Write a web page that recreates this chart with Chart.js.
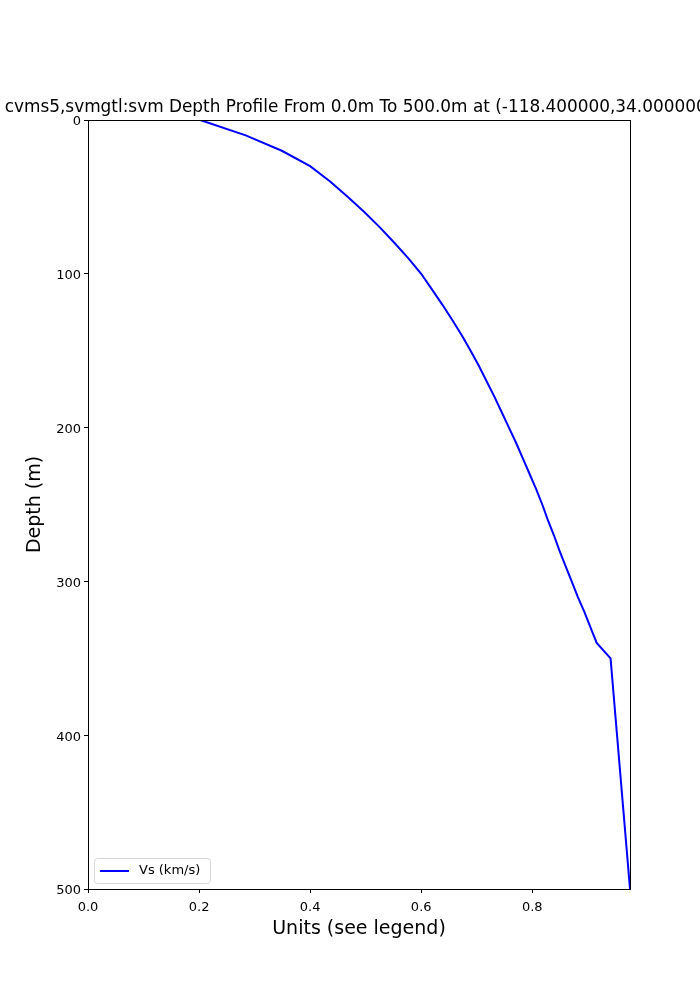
<!DOCTYPE html>
<html lang="en">
	<head>
		<meta charset="UTF-8" />
		<title>Depth Profile</title>
		<style>
			body { margin: 0; background: #fff; }
			#chartContainer { width: 700px; height: 1000px; }
		</style>
	</head>
	<body>
		<div id="chartContainer">
			<canvas id="myChart" width="700" height="1000"></canvas>
		</div>
	</body>
	<script src="https://cdn.jsdelivr.net/npm/chart.js"></script>
	<script>
		// depth samples (m) and Vs
		const depths = [0, 10, 20, 30, 40, 50, 60, 70, 80, 90, 100, 110, 120, 130, 140, 150, 160, 170, 180, 190,
			200, 210, 220, 230, 240, 250, 260, 270, 280, 290, 300, 310, 320, 330, 340, 350, 500];
		const vs = [0.202, 0.284, 0.349, 0.400, 0.436, 0.468, 0.498, 0.526, 0.552, 0.577, 0.600, 0.619, 0.638, 0.656,
			0.673, 0.689, 0.704, 0.718, 0.732, 0.745, 0.758, 0.771, 0.783, 0.795, 0.807, 0.818, 0.828, 0.839, 0.849,
			0.860, 0.871, 0.882, 0.894, 0.905, 0.916, 0.941, 0.976];
		const seriesLabel = 'Vs (km/s)';
		const titleText = 'cvms5,svmgtl:svm Depth Profile From 0.0m To 500.0m at (-118.400000,34.000000)';
		const xTitle = 'Units (see legend)';
		const yTitle = 'Depth (m)';

		const FONT = "'DejaVu Sans', sans-serif";

		// frame, title and legend drawn like matplotlib does
		const extras = {
			id: 'extras',
			afterDatasetsDraw(chart) {
				const { ctx, chartArea: a } = chart;
				ctx.save();
				ctx.strokeStyle = '#000';
				ctx.lineWidth = 1;
				ctx.strokeRect(a.left + 0.5, a.top + 0.5, a.right - a.left, a.bottom - a.top);

				ctx.fillStyle = '#000';
				ctx.font = '16.9px ' + FONT;
				ctx.textAlign = 'center';
				ctx.textBaseline = 'alphabetic';
				ctx.fillText(titleText, (a.left + a.right) / 2, 112);

				// legend box
				const bx = a.left + 6, by = a.bottom - 31, bw = 116, bh = 25;
				ctx.fillStyle = 'rgba(255,255,255,0.8)';
				ctx.strokeStyle = '#d6d6d6';
				ctx.beginPath();
				ctx.roundRect(bx + 0.5, by + 0.5, bw, bh, 3);
				ctx.fill();
				ctx.stroke();
				ctx.strokeStyle = '#0000ff';
				ctx.lineWidth = 2;
				ctx.beginPath();
				ctx.moveTo(bx + 6, by + 13);
				ctx.lineTo(bx + 35, by + 13);
				ctx.stroke();
				ctx.fillStyle = '#000';
				ctx.font = '13px ' + FONT;
				ctx.textAlign = 'left';
				ctx.textBaseline = 'middle';
				ctx.fillText(seriesLabel, bx + 45, by + 13);
				ctx.restore();
			},
		};

		const data = {
			datasets: [
				{
					label: seriesLabel,
					data: vs.map((v, i) => ({ x: v, y: depths[i] })),
					borderColor: '#0000ff',
					backgroundColor: '#0000ff',
					borderWidth: 2,
					pointRadius: 0,
					showLine: true,
					tension: 0,
				},
			],
		};

		const config = {
			type: 'scatter',
			data,
			plugins: [extras],
			options: {
				responsive: false,
				animation: false,
				devicePixelRatio: 1,
				layout: { padding: { left: 0, top: 120, right: 70, bottom: 0 } },
				plugins: { legend: { display: false }, title: { display: false }, tooltip: { enabled: false } },
				scales: {
					x: {
						type: 'linear',
						min: 0,
						max: 0.976,
						afterFit: (s) => { s.height = 111; },
						grid: { drawOnChartArea: false, drawTicks: true, tickLength: 4, color: '#000' },
						border: { display: true, color: '#000' },
						ticks: {
							stepSize: 0.2,
							includeBounds: false,
							maxRotation: 0,
							padding: 7,
							color: '#000',
							font: { family: FONT, size: 13 },
							callback: (v) => v.toFixed(1),
						},
						title: {
							display: true,
							text: xTitle,
							color: '#000',
							font: { family: FONT, size: 19 },
							padding: { top: 0, bottom: 60 },
						},
					},
					y: {
						type: 'linear',
						reverse: true,
						min: 0,
						max: 500,
						afterFit: (s) => { s.width = 88; },
						grid: { drawOnChartArea: false, drawTicks: true, tickLength: 4, color: '#000' },
						border: { display: true, color: '#000' },
						ticks: {
							stepSize: 100,
							padding: 3,
							labelOffset: 2,
							color: '#000',
							font: { family: FONT, size: 13 },
						},
						title: {
							display: true,
							text: yTitle,
							color: '#000',
							font: { family: FONT, size: 19 },
							padding: { top: 24, bottom: 0 },
						},
					},
				},
			},
		};

		new Chart(document.getElementById('myChart'), config);
	</script>
</html>
